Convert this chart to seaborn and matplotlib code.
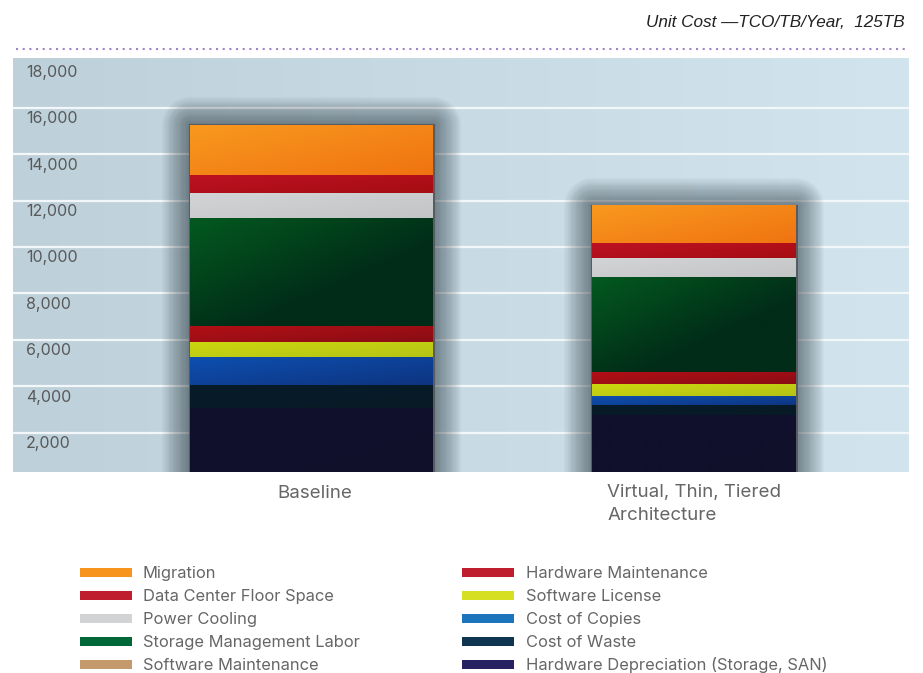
import numpy as np
import pandas as pd
import matplotlib
matplotlib.use("Agg")
import matplotlib.pyplot as plt
import seaborn as sns
from matplotlib import patheffects as pe
from matplotlib import transforms as mtransforms
from matplotlib.patches import Rectangle
from matplotlib.lines import Line2D
from matplotlib.colors import to_rgb

# ---------------- data ----------------
categories = ["Baseline", "Virtual, Thin, Tiered\nArchitecture"]
components = ["Migration", "Data Center Floor Space", "Power Cooling",
              "Storage Management Labor", "Software Maintenance",
              "Hardware Maintenance", "Software License", "Cost of Copies",
              "Cost of Waste", "Hardware Depreciation (Storage, SAN)"]
baseline_values = [2150, 775, 1075, 4650, 0, 730, 605, 1205, 980, 3075]
virtual_values = [1650, 605, 860, 4050, 0, 560, 475, 430, 400, 2750]
ytick_values = [2000, 4000, 6000, 8000, 10000, 12000, 14000, 16000, 18000]
ytick_labels = ["2,000", "4,000", "6,000", "8,000", "10,000", "12,000",
                "14,000", "16,000", "18,000"]
title_text = "Unit Cost \u2014TCO/TB/Year,  125TB"

# ---------------- styles ----------------
legend_colors = ["#F7941D", "#BE1E2D", "#D1D3D4", "#006838", "#C49A6C",
                 "#BE1E2D", "#D7DF23", "#1C75BC", "#0F3550", "#262262"]
bar_light = ["#F8991E", "#BD1123", "#D2D4D6", "#03591F", "#C49A6C",
             "#B20F16", "#CBD70E", "#0E4FB0", "#071B29", "#10102E"]
bar_dark = ["#F07311", "#A50D12", "#C2C4C6", "#012C18", "#C49A6C",
            "#880D14", "#B5C317", "#0D3480", "#071A26", "#10102B"]
bar_widths = [0.6345, 0.5325]

W, H = 923, 673
sns.set_style("white")
plt.rcParams["font.family"] = ["Inter", "DejaVu Sans"]

fig = plt.figure(figsize=(W / 100, H / 100), dpi=100)
ax = fig.add_axes([13 / W, 1 - 471.7 / H, 896 / W, (471.7 - 58) / H])

def fx(px):
    return px / W

def fy(py):
    return 1 - py / H

# background gradient
bg = np.zeros((2, 256, 3))
c_left, c_right = np.array(to_rgb("#BED0D9")), np.array(to_rgb("#D2E5EE"))
for i, t in enumerate(np.linspace(0, 1, 256)):
    bg[:, i, :] = c_left * (1 - t) + c_right * t
ax.imshow(bg, extent=(0, 1, 0, 1), transform=ax.transAxes, aspect="auto",
          zorder=0, interpolation="bilinear")

# ---------------- stacked bars via seaborn ----------------
glow = [pe.Stroke(linewidth=lw, foreground="#1E2C35", alpha=0.04,
                  joinstyle="round", capstyle="round")
        for lw in np.linspace(40, 3, 16)] + [pe.Normal()]

all_values = [baseline_values, virtual_values]
for ci, cat in enumerate(categories):
    vals = all_values[ci]
    rev = vals[::-1]
    cum_from_bottom = np.cumsum(rev)[::-1]  # top value for each component
    for k, comp in enumerate(components):
        top = cum_from_bottom[k]
        bottom_val = top - vals[k]
        df = pd.DataFrame({"category": [cat], "value": [top]})
        first = (k == 0)
        sns.barplot(data=df, x="category", y="value", order=categories,
                    color=bar_light[k], saturation=1, width=bar_widths[ci],
                    errorbar=None, ax=ax,
                    edgecolor="#565C61" if first else "none",
                    linewidth=2.2 if first else 0, zorder=2)
        patch = ax.patches[-1]
        if first:
            patch.set_path_effects(glow)
        if vals[k] > 0:
            x0 = patch.get_x()
            x1 = x0 + patch.get_width()
            n = 64
            X, Y = np.meshgrid(np.linspace(0, 1, n), np.linspace(0, 1, n))
            t = np.clip((X + Y) / 2.0, 0, 1)
            if comp == "Storage Management Labor":
                t = np.clip(t * 1.6, 0, 1)
            c1, c2 = np.array(to_rgb(bar_light[k])), np.array(to_rgb(bar_dark[k]))
            img = c1[None, None, :] * (1 - t[..., None]) + c2[None, None, :] * t[..., None]
            ax.imshow(img, extent=(x0, x1, bottom_val, top), origin="upper",
                      aspect="auto", zorder=2.1, interpolation="bilinear")

ax.set_xlim(-0.780, 1.5625)
ax.set_ylim(319, 18140)
ax.set_xlabel("")
ax.set_ylabel("")
ax.set_xticks([])
ax.set_yticks([v for v in ytick_values if v < 18000])
ax.set_yticklabels([])
ax.tick_params(length=0)
ax.set_axisbelow(True)
ax.grid(axis="y", color="#F4F7F9", linewidth=1.6, zorder=0.5)
for s in ax.spines.values():
    s.set_visible(False)

# y tick labels inside panel, just below each gridline
ytrans = mtransforms.blended_transform_factory(ax.transAxes, ax.transData)
ytrans = ytrans + mtransforms.ScaledTranslation(0, -11 / 100, fig.dpi_scale_trans)
for v, lab in zip(ytick_values, ytick_labels):
    ax.text(13 / 896, v, lab, transform=ytrans, ha="left", va="center",
            fontsize=11.5, color="#58595B", zorder=5, clip_on=False)

# category labels
xtrans = mtransforms.blended_transform_factory(ax.transData, ax.transAxes)
ax.text(0 + 0.0095, (471.7 - 493) / 413.7, categories[0], transform=xtrans,
        ha="center", va="center", fontsize=13.5, color="#666666", clip_on=False)
ax.text(1 - 0.2265, (471.7 - 483.5) / 413.7, categories[1], transform=xtrans,
        ha="left", va="top", fontsize=13.5, color="#666666",
        linespacing=1.52, clip_on=False)

# title and dotted rule
fig.text(fx(905), fy(27.3), title_text, ha="right", va="baseline",
         fontsize=12.3, style="italic", color="#222222",
         family=["Liberation Sans Narrow", "Liberation Sans", "DejaVu Sans"])
fig.add_artist(Line2D([fx(16), fx(908)], [fy(49), fy(49)], transform=fig.transFigure,
                      color="#9D86C2", linewidth=1.5,
                      linestyle=(0, (1.0, 2.2)), dash_capstyle="butt"))

# legend (two columns, manual placement)
for k, comp in enumerate(components):
    col, row = divmod(k, 5)
    yc = 572.5 + 23 * row
    sx0, sx1 = (80, 131.7) if col == 0 else (461.7, 514)
    tx = 142.7 if col == 0 else 526
    fig.add_artist(Rectangle((fx(sx0), fy(yc + 4.5)), (sx1 - sx0) / W, 9 / H,
                             transform=fig.transFigure, facecolor=legend_colors[k],
                             edgecolor="none"))
    fig.text(fx(tx), fy(yc + 5.8), comp, ha="left", va="baseline",
             fontsize=11.85, color="#666666")

fig.savefig("out.png", dpi=100)
